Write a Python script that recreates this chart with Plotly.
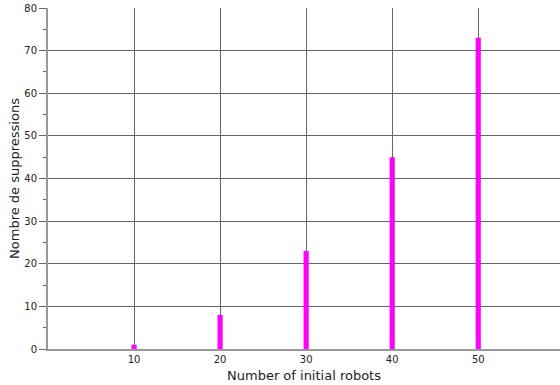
import plotly.graph_objects as go

# Number of initial robots vs. number of suppressions
robots = [10, 20, 30, 40, 50]
suppressions = [1, 8, 23, 45, 73]
x_ticks = [10, 20, 30, 40, 50]
y_ticks = [0, 10, 20, 30, 40, 50, 60, 70, 80]

font_family = "DejaVu Sans, Verdana, sans-serif"

fig = go.Figure(
    go.Bar(
        x=robots,
        y=suppressions,
        width=0.6,
        marker=dict(color="#ff00ff", line=dict(width=0)),
    )
)

fig.update_layout(
    width=560,
    height=385,
    margin=dict(l=48, r=0, t=8, b=36),
    paper_bgcolor="white",
    plot_bgcolor="white",
    showlegend=False,
    font=dict(family=font_family, size=10, color="#222"),
)

fig.update_xaxes(
    range=[0, 59.5],
    tickvals=x_ticks,
    ticktext=[str(v) for v in x_ticks],
    ticks="",
    showgrid=True,
    gridcolor="#666",
    gridwidth=1,
    showline=True,
    linecolor="#999",
    linewidth=2,
    zeroline=False,
    tickfont=dict(size=10),
    title=dict(text="Number of initial robots", font=dict(size=13), standoff=7),
)

fig.update_yaxes(
    range=[0, 80],
    tickvals=y_ticks,
    ticks="outside",
    ticklen=7,
    tickcolor="#666",
    showgrid=True,
    gridcolor="#666",
    gridwidth=1,
    showline=True,
    linecolor="#999",
    linewidth=2,
    zeroline=False,
    tickfont=dict(size=10),
    minor=dict(dtick=5, ticks="outside", ticklen=3, tickcolor="#666", showgrid=False),
    title=dict(text="Nombre de suppressions", font=dict(size=13), standoff=2),
)

fig.write_html("out.html")
